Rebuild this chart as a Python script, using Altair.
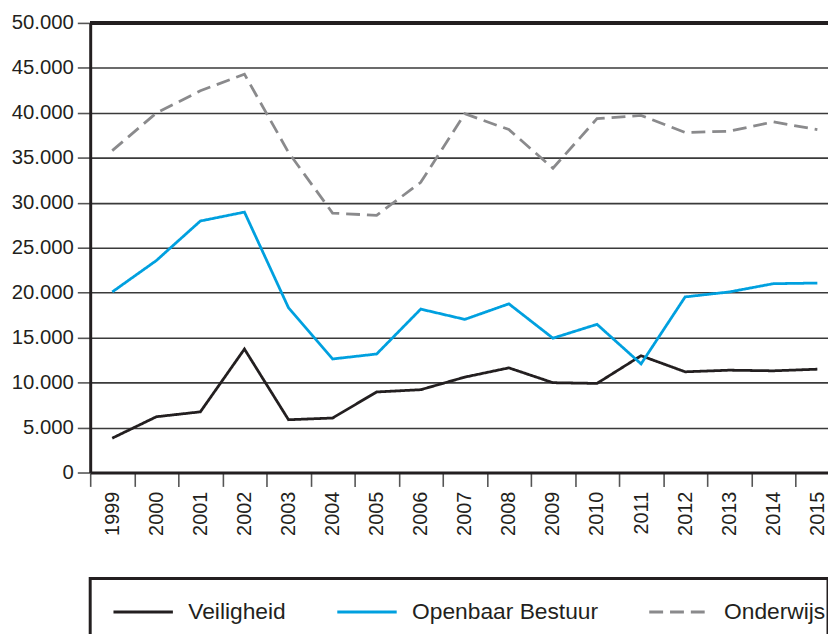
import altair as alt
import pandas as pd

years = [str(y) for y in range(1999, 2016)]
veiligheid = [3820, 6200, 6750, 13730, 5870, 6060, 8960, 9210, 10610, 11640,
              9990, 9910, 12990, 11200, 11380, 11310, 11490]
openbaar_bestuur = [20080, 23570, 27970, 28960, 18320, 12630, 13180, 18170, 17030,
                    18760, 14940, 16480, 12080, 19530, 20080, 21000, 21070]
onderwijs = [35800, 39980, 42450, 44300, 35600, 28850, 28600, 32270, 39900,
             38140, 33840, 39350, 39720, 37810, 37960, 38990, 38140]

series_names = ["Veiligheid", "Openbaar Bestuur", "Onderwijs"]
series_colors = ["#231f20", "#00a0df", "#8a8a8c"]
series_dash = [[1, 0], [1, 0], [14, 7]]

rows = []
for name, vals in zip(series_names, [veiligheid, openbaar_bestuur, onderwijs]):
    for y, v in zip(years, vals):
        rows.append({"jaar": y, "waarde": v, "reeks": name})
df = pd.DataFrame(rows)

FONT = "Liberation Sans"

x_enc = alt.X(
    "jaar:O",
    title=None,
    bandPosition=0.5,
    scale=alt.Scale(type="band", paddingInner=0, paddingOuter=0, range=[0, 756.5]),
    axis=alt.Axis(
        labelAngle=270, labelFontSize=20, labelColor="#231f20", labelPadding=5,
        tickBand="extent", tickSize=14, tickColor="#555555", tickWidth=1.6,
        domainColor="#231f20", domainWidth=3, labelFont=FONT,
    ),
)

y_enc = alt.Y(
    "waarde:Q",
    title=None,
    scale=alt.Scale(domain=[0, 50000], nice=False),
    axis=alt.Axis(
        values=list(range(0, 50001, 5000)),
        labelExpr="replace(format(datum.value, ','), ',', '.')",
        labelFontSize=20.5, labelColor="#231f20", labelPadding=4, labelFont=FONT,
        tickSize=13, tickColor="#555555", tickWidth=1.6,
        domainColor="#231f20", domainWidth=3,
        grid=True, gridColor="#3a3a3a", gridWidth=1.6,
    ),
)

legend = alt.Legend(
    title=" ", titleOrient="bottom", titleFontSize=24, titlePadding=0,
    orient="none", legendX=0, legendY=561,
    direction="horizontal", symbolType="stroke",
    symbolSize=3600, symbolStrokeWidth=3, symbolOffset=20,
    labelFontSize=23, labelFont=FONT, labelColor="#231f20", labelLimit=0,
    labelOffset=14, columnPadding=30, padding=2,
    strokeColor="#231f20", fillColor="white",
)

lines = alt.Chart(df).mark_line(strokeWidth=2.8).encode(
    x=x_enc,
    y=y_enc,
    color=alt.Color("reeks:N", sort=series_names,
                    scale=alt.Scale(domain=series_names, range=series_colors),
                    legend=legend),
    strokeDash=alt.StrokeDash("reeks:N", sort=series_names,
                              scale=alt.Scale(domain=series_names, range=series_dash),
                              legend=legend),
)

top_rule = alt.Chart(df).mark_rule(color="#231f20", strokeWidth=3).encode(
    y=alt.datum(50000)
)

chart = alt.layer(lines, top_rule).properties(
    width=745, height=454,
    autosize=alt.AutoSizeParams(type="none"),
    padding={"left": 83, "top": 12, "right": 0, "bottom": 160},
).configure_view(stroke=None).configure(font=FONT).configure_legend(strokeWidth=3)

chart.save("out.html", embed_options={"renderer": "svg", "actions": False})
